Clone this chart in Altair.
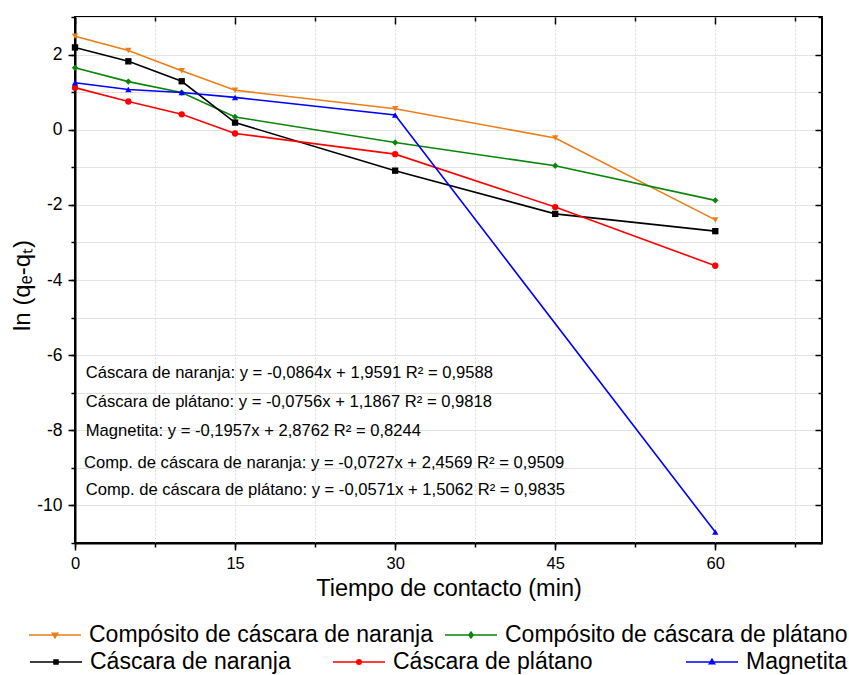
import altair as alt
import pandas as pd

# ---------------- data ----------------
time_min = [0, 5, 10, 15, 30, 45, 60]
comp_naranja = [2.49, 2.11, 1.57, 1.05, 0.56, -0.22, -2.40]
comp_platano = [1.65, 1.28, 0.99, 0.34, -0.34, -0.96, -1.88]
cascara_naranja = [2.19, 1.82, 1.29, 0.19, -1.09, -2.24, -2.70]
cascara_platano = [1.12, 0.75, 0.41, -0.10, -0.65, -2.06, -3.62]
magnetita_time = [0, 5, 10, 15, 30, 60]
magnetita = [1.25, 1.07, 0.99, 0.86, 0.39, -10.71]

series_names = [
    "Compósito de cáscara de naranja",
    "Compósito de cáscara de plátano",
    "Cáscara de naranja",
    "Cáscara de plátano",
    "Magnetita",
]
series_times = [time_min, time_min, time_min, time_min, magnetita_time]
series_values = [comp_naranja, comp_platano, cascara_naranja, cascara_platano, magnetita]

annotations = [
    "Cáscara de naranja: y = -0,0864x + 1,9591 R² = 0,9588",
    "Cáscara de plátano: y = -0,0756x + 1,1867 R² = 0,9818",
    "Magnetita: y = -0,1957x + 2,8762 R² = 0,8244",
    "Comp. de cáscara de naranja: y = -0,0727x + 2,4569 R² = 0,9509",
    "Comp. de cáscara de plátano: y = -0,0571x + 1,5062 R² = 0,9835",
]
anno_x = [1.0, 1.0, 1.0, 0.85, 1.0]
anno_y = [-6.47, -7.24, -8.03, -8.87, -9.59]

x_major = [0, 15, 30, 45, 60]
x_minor = [7.5, 22.5, 37.5, 52.5, 67.5]
x_grid = [0, 7.5, 15, 22.5, 30, 37.5, 45, 52.5, 60, 67.5]
y_major = [-10, -8, -6, -4, -2, 0, 2]
y_minor = [-11, -9, -7, -5, -3, -1, 1, 3]
y_grid = [-11, -10, -9, -8, -7, -6, -5, -4, -3, -2, -1, 0, 1, 2, 3]

# ---------------- styles ----------------
colors = ["#EC7D18", "#0A850A", "#000000", "#FF0000", "#0000FF"]
shapes = ["triangle-down", "diamond", "square", "circle", "triangle-up"]
legend_paths = [
    "M-1,0H1M-0.1,-0.07H0.1L0,0.1Z",
    "M-1,0H1M0,-0.11L0.08,0L0,0.11L-0.08,0Z",
    "M-1,0H1M-0.075,-0.075H0.075V0.075H-0.075Z",
    "M-1,0H1M-0.085,0A0.085,0.085 0 1,0 0.085,0A0.085,0.085 0 1,0 -0.085,0Z",
    "M-1,0H1M-0.1,0.07H0.1L0,-0.1Z",
]
# legend placement (pixel, relative to plot origin)
legend_pos = [(-47, 591), (369, 591), (-46, 618), (257, 618), (610, 618)]

FONT = "Liberation Sans"
XS = alt.Scale(domain=[0, 70], nice=False, zero=False)
YS = alt.Scale(domain=[-11, 3], nice=False, zero=False)

rows = []
for name, ts, vs in zip(series_names, series_times, series_values):
    for t, v in zip(ts, vs):
        rows.append({"series": name, "t": t, "v": v})
df = pd.DataFrame(rows)

layers = []
for i, name in enumerate(series_names):
    d = df[df["series"] == name]
    base = alt.Chart(d)
    lx, ly = legend_pos[i]
    line = base.mark_line(strokeWidth=1.6).encode(
        x=alt.X("t:Q", scale=XS, axis=None),
        y=alt.Y("v:Q", scale=YS, axis=None),
        color=alt.Color(
            "series:N",
            scale=alt.Scale(domain=[name], range=[colors[i]]),
            legend=alt.Legend(
                orient="none", legendX=lx, legendY=ly, title=None,
                symbolType=legend_paths[i], symbolSize=2704,
                symbolStrokeWidth=1.6, symbolFillColor=colors[i],
                labelFont=FONT, labelFontSize=23, labelColor="black",
                labelLimit=800, labelOffset=7, padding=0,
            ),
        ),
    )
    pts = base.mark_point(shape=shapes[i], filled=True, size=40, opacity=1).encode(
        x=alt.X("t:Q", scale=XS, axis=None),
        y=alt.Y("v:Q", scale=YS, axis=None),
        color=alt.value(colors[i]),
    )
    layers.append(alt.layer(line, pts))

anno_df = pd.DataFrame({"x": anno_x, "y": anno_y, "label": annotations})
anno = alt.Chart(anno_df).mark_text(
    align="left", baseline="middle", font=FONT, fontSize=16.6, color="black"
).encode(
    x=alt.X("x:Q", scale=XS, axis=None),
    y=alt.Y("y:Q", scale=YS, axis=None),
    text="label:N",
)


def axis_layer(xaxis, yaxis):
    return alt.Chart(df).mark_point(opacity=0).encode(
        x=alt.X("t:Q", scale=XS, axis=xaxis),
        y=alt.Y("v:Q", scale=YS, axis=yaxis),
    )


common = dict(tickColor="black", tickWidth=1.5, grid=False, domain=False,
              labels=False, title=None)

ax_main = axis_layer(
    alt.Axis(orient="bottom", values=x_major, tickSize=7, tickColor="black",
             tickWidth=1.5, domain=True, domainColor="black", domainWidth=2,
             labelFont=FONT, labelFontSize=16.5, labelColor="black",
             labelPadding=5, labelFlush=False, grid=False,
             labelExpr="toString(datum.value)",
             title="Tiempo de contacto (min)", titleFont=FONT,
             titleFontSize=23.5, titleFontWeight="normal", titleColor="black",
             titleBaseline="middle", titleY=45),
    alt.Axis(orient="left", values=y_major, tickSize=7, tickColor="black",
             tickWidth=1.5, domain=True, domainColor="black", domainWidth=2,
             labelFont=FONT, labelFontSize=17.5, labelColor="black",
             labelPadding=6, labelFlush=False, grid=False,
             labelExpr="toString(datum.value)",
             title="ln (qₑ-qₜ)", titleFont=FONT, titleFontSize=24,
             titleFontWeight="normal", titleColor="black",
             titleBaseline="middle", titleX=-53, titleY=268),
)
ax_minor = axis_layer(
    alt.Axis(orient="bottom", values=x_grid, tickSize=4, tickColor="black",
             tickWidth=1.5, domain=False, labels=False, title=None,
             grid=True, gridColor="#d9d9d9", gridDash=[2, 2], gridWidth=1),
    alt.Axis(orient="left", values=y_grid, tickSize=4, tickColor="black",
             tickWidth=1.5, domain=False, labels=False, title=None,
             grid=True, gridColor="#e3e3e3", gridWidth=1),
)
ax_top_major = axis_layer(
    alt.Axis(orient="top", values=x_major, tickSize=7, offset=-7, **common),
    alt.Axis(orient="right", values=y_major, tickSize=7, offset=-7, **common),
)
ax_top_minor = axis_layer(
    alt.Axis(orient="top", values=x_minor, tickSize=4, offset=-4, **common),
    alt.Axis(orient="right", values=y_minor, tickSize=4, offset=-4, **common),
)

chart = alt.layer(
    ax_minor, ax_main, ax_top_major, ax_top_minor, *layers, anno
).resolve_scale(
    color="independent"
).resolve_axis(
    x="independent", y="independent"
).properties(
    width=747, height=526,
    autosize=alt.AutoSizeParams(type="none"),
    padding={"left": 75, "top": 17, "right": 27, "bottom": 132},
    background="white",
).configure_view(
    stroke="black", strokeWidth=2
)

chart.save("out.html", embed_options={"renderer": "svg", "actions": False})
